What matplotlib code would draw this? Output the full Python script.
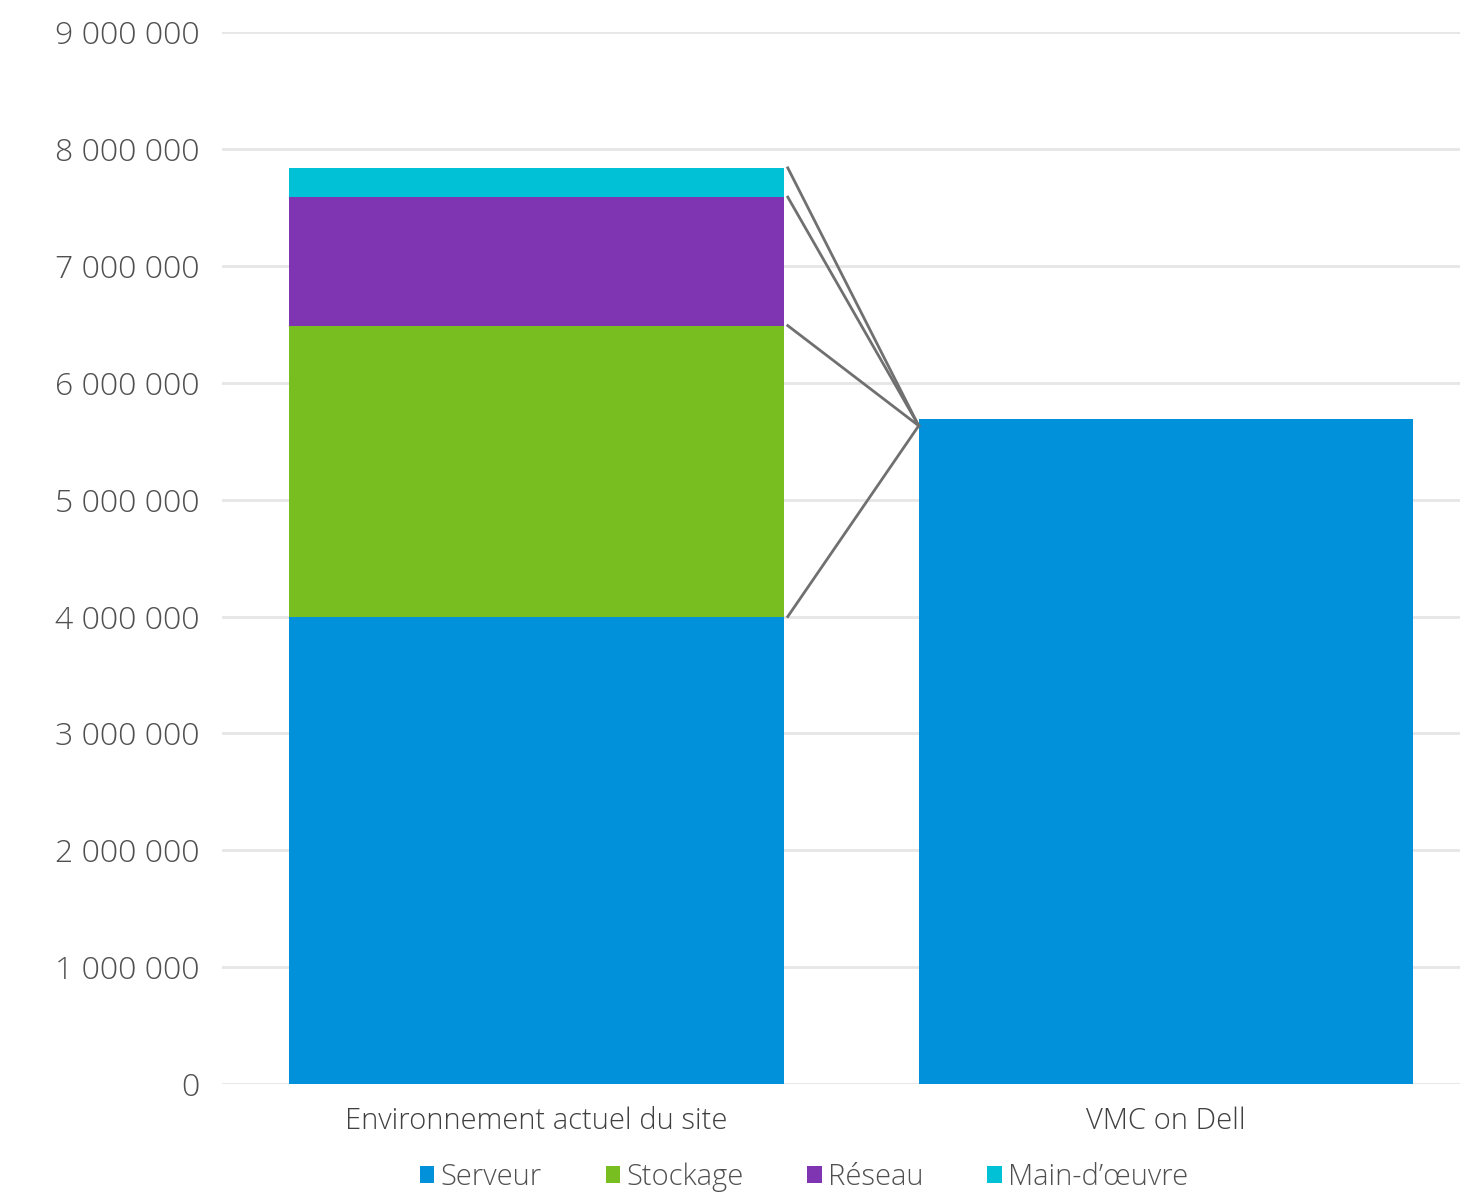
import matplotlib.pyplot as plt
import numpy as np
from matplotlib.ticker import FuncFormatter

# data
categories = ["Environnement actuel du site", "VMC on Dell"]
series = ["Serveur", "Stockage", "Réseau", "Main-d’œuvre"]
colors = ["#0091DA", "#78BE20", "#7F35B2", "#00C1D5"]
actuel = [4000000, 2490000, 1100000, 250000]
vmc = 5690000

plt.rcParams['font.family'] = ['Open Sans', 'DejaVu Sans']
plt.rcParams['font.weight'] = 'light'
fig = plt.figure(figsize=(14.6, 11.97), dpi=100)
ax = fig.add_axes([0.152, 0.0944, 0.848, 0.8786])

w = 0.786
bottom = 0
for name, val, c in zip(series, actuel, colors):
    ax.bar(0, val, w, bottom=bottom, color=c, label=name, zorder=2)
    bottom += val
ax.bar(1, vmc, w, color=colors[0], zorder=2)

# connector lines from each segment top to the VMC bar
tops = np.cumsum(actuel)
x0 = w / 2 + 0.006
x1 = 1 - w / 2
for t in tops:
    ax.plot([x0, x1], [t, vmc * 0.99], color="#707070", lw=2, zorder=3)

ax.set_xlim(-0.5, 1.467)
ax.set_ylim(0, 9000000)
ax.set_yticks(np.arange(0, 9000001, 1000000))
ax.yaxis.set_major_formatter(FuncFormatter(lambda v, p: f"{int(v):,}".replace(",", " ")))
ax.set_xticks([0, 1])
ax.set_xticklabels(categories, fontsize=21, color="#404040")
ax.tick_params(axis='y', labelsize=23, colors="#505050", length=0, pad=16)
ax.tick_params(axis='x', length=0, pad=16)
ax.grid(axis='y', color="#e6e6e6", lw=2, zorder=0)
for s in ax.spines.values():
    s.set_visible(False)

ax.legend(loc="upper center", bbox_to_anchor=(0.47, -0.058), ncol=4, frameon=False,
          fontsize=21, handlelength=0.5, handleheight=0.5, handletextpad=0.2,
          columnspacing=2.2, labelcolor="#505050", borderpad=0.1)

fig.savefig("out.png", dpi=100)
